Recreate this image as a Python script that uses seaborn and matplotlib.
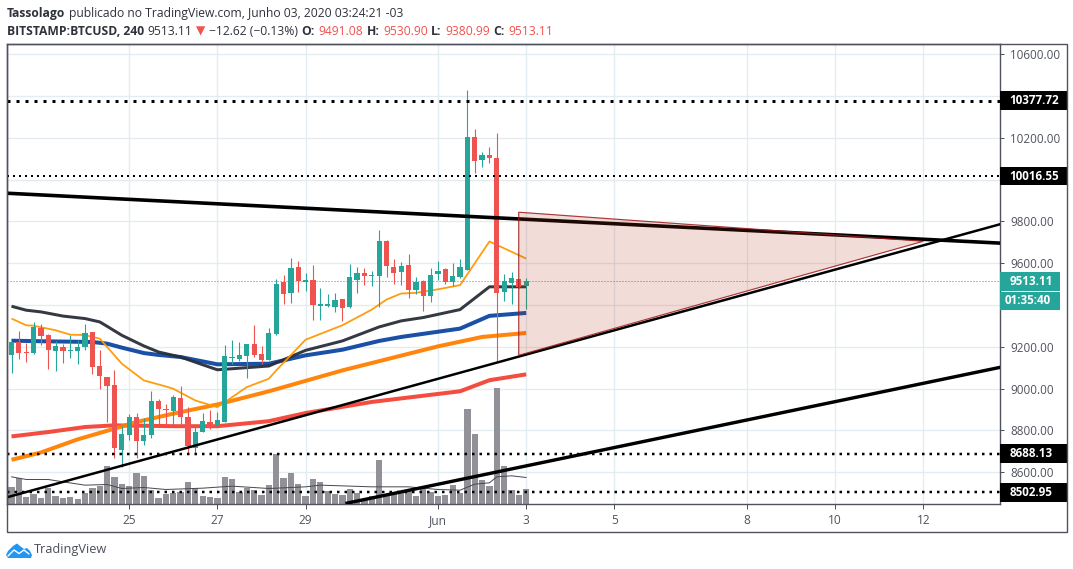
import numpy as np
import pandas as pd
import matplotlib
matplotlib.use("Agg")
import matplotlib.pyplot as plt
from matplotlib.patches import Rectangle, Polygon
import seaborn as sns

# ---------- data ----------
opens = [9161,9225,9173,9170,9288,9255,9178,9197,9180,9178,9197,9269,9106,9054,9016,8704,8776,8862,
         8747,8776,8939,8904,8891,8953,8862,8714,8790,8838,8824,8838,9146,9140,9154,9212,9164,9135,
         9260,9509,9456,9581,9509,9519,9394,9397,9389,9427,9389,9519,9552,9538,9538,9705,9581,9557,
         9590,9471,9514,9442,9547,9571,9509,9533,9567,10205,10094,10118,10103,9461,9504,9524,9491.08]
highs = [9221,9274,9218,9317,9308,9260,9228,9215,9255,9231,9311,9269,9183,9054,9087,8819,8878,8881,
         8861,8987,8948,8928,8968,9011,8910,8824,8885,8896,8886,9207,9231,9222,9212,9303,9202,9289,
         9523,9542,9624,9610,9552,9590,9480,9451,9456,9427,9595,9581,9576,9562,9758,9710,9619,9605,
         9643,9533,9519,9576,9610,9576,9600,9619,10429,10242,10132,10156,10223,9548,9557,9524,9530.90]
lows = [9074,9140,9127,9164,9209,9092,9084,9122,9145,9116,9183,9070,8998,8838,8666,8627,8752,8666,
        8728,8762,8824,8824,8824,8824,8694,8685,8790,8805,8819,8838,9116,9130,9049,9150,9116,9135,
        9255,9404,9408,9461,9466,9327,9327,9389,9365,9322,9384,9456,9495,9490,9389,9533,9499,9495,
        9432,9451,9370,9413,9519,9499,9490,9528,9567,10031,10060,10079,9131,9418,9404,9480,9380.99]
closes = [9221,9170,9170,9293,9250,9183,9202,9178,9183,9197,9264,9103,9059,9012,8714,8781,8862,8747,
          8776,8939,8900,8897,8958,8862,8723,8790,8843,8816,8848,9154,9150,9159,9212,9159,9135,9265,
          9499,9451,9576,9514,9519,9399,9404,9404,9423,9384,9533,9552,9538,9542,9705,9586,9552,9586,
          9471,9509,9442,9542,9562,9509,9538,9581,10205,10089,10118,10103,9457,9514,9528,9485,9513.11]
volumes = [49,75,19,28,16,46,22,16,19,13,31,46,52,112,79,58,52,91,82,40,16,28,31,34,64,46,22,19,16,79,
           73,34,46,40,25,55,148,76,91,58,22,73,64,37,28,25,43,31,10,22,130,25,31,37,40,22,49,34,22,25,
           55,31,283,208,70,52,346,112,40,25,43]

dark_i = [0,2,4,7,10,12,13,15,18,20,23,26,28,30,35,40,45,50,53,56,61,65,70]
dark_v = [9394,9375,9367,9347,9335,9319,9298,9255,9204,9175,9151,9114,9090,9095,9108,9183,9228,9295,9324,9340,9378,9487,9487]
blue_i = [0,5,11,13,15,18,20,23,26,28,35,40,45,50,53,61,65,70]
blue_v = [9229,9226,9223,9215,9196,9170,9161,9151,9130,9116,9119,9159,9186,9228,9247,9287,9348,9362]
thick_i = [0,4,9,14,17,22,28,35,45,51,58,64,70]
thick_v = [8659,8694,8757,8808,8840,8880,8924,8987,9087,9140,9202,9247,9266]
red_i = [0,5,10,14,22,28,35,40,49,61,65,70]
red_v = [8771,8792,8816,8824,8820,8820,8844,8883,8936,8987,9040,9068]
thin_i = [0,2,3,6,8,10,12,13,15,18,21,22,25,28,30,32,35,36,40,45,49,51,53,55,58,61,65,70]
thin_v = [9335,9303,9301,9279,9258,9256,9239,9199,9119,9039,9010,8999,8943,8911,8959,9007,9047,9087,
          9234,9303,9378,9426,9455,9458,9475,9495,9704,9622]
vma_i = [0,2,5,7,10,13,15,18,21,26,30,35,40,42,49,54,58,61,63,65,66,68,70]
vma_v = [80,72,72,65,55,57,45,48,42,46,52,45,50,55,50,50,42,40,58,62,80,83,78]

tick_days = [25,27,29,32,34,36,39,41,43]
tick_names = ["25","27","29","Jun","3","5","8","10","12"]
grid_prices = [10600,10400,10200,10000,9800,9600,9400,9200,9000,8800,8600]
label_prices = [10600,10200,9800,9600,9200,9000,8800,8600]
dotted_levels = [10377.72,10016.55,8688.13,8502.95]
last_price = 9513.11
trend_days = [[22.22,44.75],[22.22,44.75],[29.9,44.75]]
trend_prices = [[9935,9696],[8479,9787],[8450,9102]]
tri_days = [33.83,33.83,43.0]
tri_prices = [9844,9159,9705]

# ---------- helpers ----------
def to_day(i):
    return 34 - (70 - np.asarray(i, dtype=float)) / 6

PX = 0.72  # points per pixel at dpi 100
FONT = ["Open Sans", "DejaVu Sans"]
GREEN, RED = "#26a69a", "#ef5350"
TXT = "#50535e"

sns.set_theme(style="white")
plt.rcParams["font.family"] = FONT

fig = plt.figure(figsize=(10.73, 5.69), dpi=100, facecolor="white")
W, H = 1073, 569
rect = [6.5 / W, 1 - 503.5 / H, (1000.5 - 6.5) / W, 459.5 / H]
XLIM = (22.22, 44.75)
YLIM = (8450, 10649)

grid_ax = fig.add_axes(rect, zorder=0)
vol_ax = fig.add_axes(rect, zorder=1)
ax = fig.add_axes(rect, zorder=2)
for a in (grid_ax, vol_ax, ax):
    a.set_xlim(*XLIM)
vol_ax.patch.set_visible(False)
ax.patch.set_visible(False)

# grid
grid_ax.set_ylim(*YLIM)
grid_ax.set_xticks(tick_days)
grid_ax.set_yticks(grid_prices)
grid_ax.tick_params(length=0, labelbottom=False, labelleft=False)
grid_ax.grid(True, color="#e3ecf1", lw=1.3 * PX)
for s in grid_ax.spines.values():
    s.set_visible(False)

# volume
vol_ax.set_ylim(0, 1378)
vol_ax.bar(to_day(np.arange(len(volumes))), volumes, width=0.143, color="#919197", lw=0)
vdf = pd.DataFrame({"d": to_day(vma_i), "v": vma_v})
sns.lineplot(data=vdf, x="d", y="v", ax=vol_ax, color="#4a4a55", lw=1.0 * PX, errorbar=None, sort=False)
vol_ax.set_xlim(*XLIM)
vol_ax.set_ylim(0, 1378)
vol_ax.axis("off")

# moving averages
for idx, vals, col, lw, z in [
    (red_i, red_v, "#f44336", 4.0, 2.0),
    (thick_i, thick_v, "#ff7f00", 4.0, 2.1),
    (blue_i, blue_v, "#0d47a1", 4.0, 2.2),
    (dark_i, dark_v, "#2a2e39", 3.0, 2.3),
    (thin_i, thin_v, "#ff9800", 1.8, 2.4),
]:
    df = pd.DataFrame({"d": to_day(idx), "p": vals})
    sns.lineplot(data=df, x="d", y="p", ax=ax, color=col, lw=lw * PX, errorbar=None,
                 sort=False, zorder=z, solid_capstyle="butt", alpha=0.95)

# candles
days = to_day(np.arange(len(opens)))
o, h, l, c = map(np.array, (opens, highs, lows, closes))
cols = np.where(c >= o, GREEN, RED)
ax.vlines(days, l, h, colors=cols, lw=1.1 * PX, zorder=3)
body_h = np.maximum(np.abs(c - o), 4)
ax.bar(days, body_h, bottom=np.minimum(o, c), width=0.118, color=cols, lw=0, zorder=3.1)

# horizontal levels
ax.axhline(last_price, color=GREEN, lw=1.0 * PX, ls=(0, (1, 2)), zorder=3.2)
for lv, lw in zip(dotted_levels, [3.0, 2.0, 2.5, 2.5]):
    ax.axhline(lv, color="black", lw=lw * PX, ls=(0, (1, 2)), zorder=4)

# trend lines
for dd, pp, lw in zip(trend_days, trend_prices, [3.6, 2.5, 3.4]):
    ax.plot(dd, pp, color="black", lw=lw * PX, zorder=4, solid_capstyle="butt")

# triangle
ax.add_patch(Polygon(np.column_stack([tri_days, tri_prices]), closed=True,
                     facecolor=(0.70, 0.19, 0.10, 0.17), edgecolor=(0.62, 0.10, 0.10, 0.85),
                     lw=1.2 * PX, zorder=5))

# axes style
ax.set_xlim(*XLIM)
ax.set_ylim(*YLIM)
ax.set_xlabel("")
ax.set_ylabel("")
ax.yaxis.tick_right()
ax.set_yticks(label_prices)
ax.set_yticklabels([f"{p:.2f}" for p in label_prices])
ax.set_xticks(tick_days)
ax.set_xticklabels(tick_names)
ax.tick_params(axis="y", length=3, width=1 * PX, color=TXT, labelcolor=TXT, labelsize=8.4, pad=4, right=True)
ax.tick_params(axis="x", length=3.5, width=1 * PX, color=TXT, labelcolor=TXT, labelsize=8.6, pad=4, bottom=True)
for lab in ax.get_xticklabels() + ax.get_yticklabels():
    lab.set_family(FONT)
for s in ax.spines.values():
    s.set_color(TXT)
    s.set_linewidth(1.4 * PX)
    s.set_visible(True)

# price flags on the scale
tr = ax.get_yaxis_transform()
fw = 66 / 994
half = 9.3 / (459.5 / (YLIM[1] - YLIM[0]))
for lv in dotted_levels:
    ax.add_patch(Rectangle((1, lv - half), fw, 2 * half, transform=tr, color="black", clip_on=False, zorder=6, lw=0))
    ax.text(1 + 9 / 994, lv, f"{lv:.2f}", transform=tr, color="white", fontsize=8.4, fontweight="bold",
            va="center", ha="left", zorder=7, clip_on=False)
ax.add_patch(Rectangle((1, last_price - half), 60 / 994, 2 * half, transform=tr, color=GREEN, clip_on=False, zorder=6, lw=0))
ax.text(1 + 9 / 994, last_price, f"{last_price:.2f}", transform=tr, color="white", fontsize=8.4, fontweight="bold",
        va="center", ha="left", zorder=7, clip_on=False)
ax.add_patch(Rectangle((1, last_price - 94 - half), 60 / 994, 2 * half, transform=tr, color=GREEN, clip_on=False, zorder=6, lw=0))
ax.text(1 + 4 / 994, last_price - 94, "01:35:40", transform=tr, color="white", fontsize=8.4, fontweight="bold",
        va="center", ha="left", zorder=7, clip_on=False)

# overlay in pixel coordinates: frame, header, logo
ov = fig.add_axes([0, 0, 1, 1], zorder=3)
ov.set_xlim(0, W)
ov.set_ylim(H, 0)
ov.axis("off")
ov.patch.set_visible(False)
ov.add_patch(Rectangle((6.5, 44), 1060, 488, fill=False, edgecolor=TXT, lw=1.4 * PX))

fig.canvas.draw()
rend = fig.canvas.get_renderer()

def chain(x, y, pieces, size=8.75):
    for txt, col, wt in pieces:
        t = ov.text(x, y, txt, color=col, fontsize=size, fontweight=wt, va="center", ha="left", family=FONT)
        bb = t.get_window_extent(rend)
        x = x + bb.width + 3.5

DK = "#2f323b"
chain(7, 13, [("Tassolago", DK, "bold"),
              ("publicado no TradingView.com, Junho 03, 2020 03:24:21 -03", DK, "normal")])
chain(7, 31, [("BITSTAMP:BTCUSD, 240", DK, "bold"), ("9513.11", DK, "normal"), ("▼", RED, "normal"),
              ("−12.62 (−0.13%)", DK, "normal"), ("O:", DK, "bold"), ("9491.08", RED, "normal"),
              ("H:", DK, "bold"), ("9530.90", RED, "normal"), ("L:", DK, "bold"), ("9380.99", RED, "normal"),
              ("C:", DK, "bold"), ("9513.11", RED, "normal")])

ov.add_patch(Polygon([(6, 555), (8, 551), (13, 546), (17, 543.5), (20, 546), (24, 549), (27, 548), (30, 551),
                      (32, 555), (31, 558), (8, 558)], closed=True, color="#2196f3", lw=0))
ov.plot([8, 14, 19, 24, 29], [556, 550, 553.5, 550, 554], color="white", lw=1.4 * PX)
ov.text(34, 550, "TradingView", color="#4a4e5a", fontsize=9.2, va="center", ha="left", family=FONT)

fig.savefig("out.png", dpi=100)
